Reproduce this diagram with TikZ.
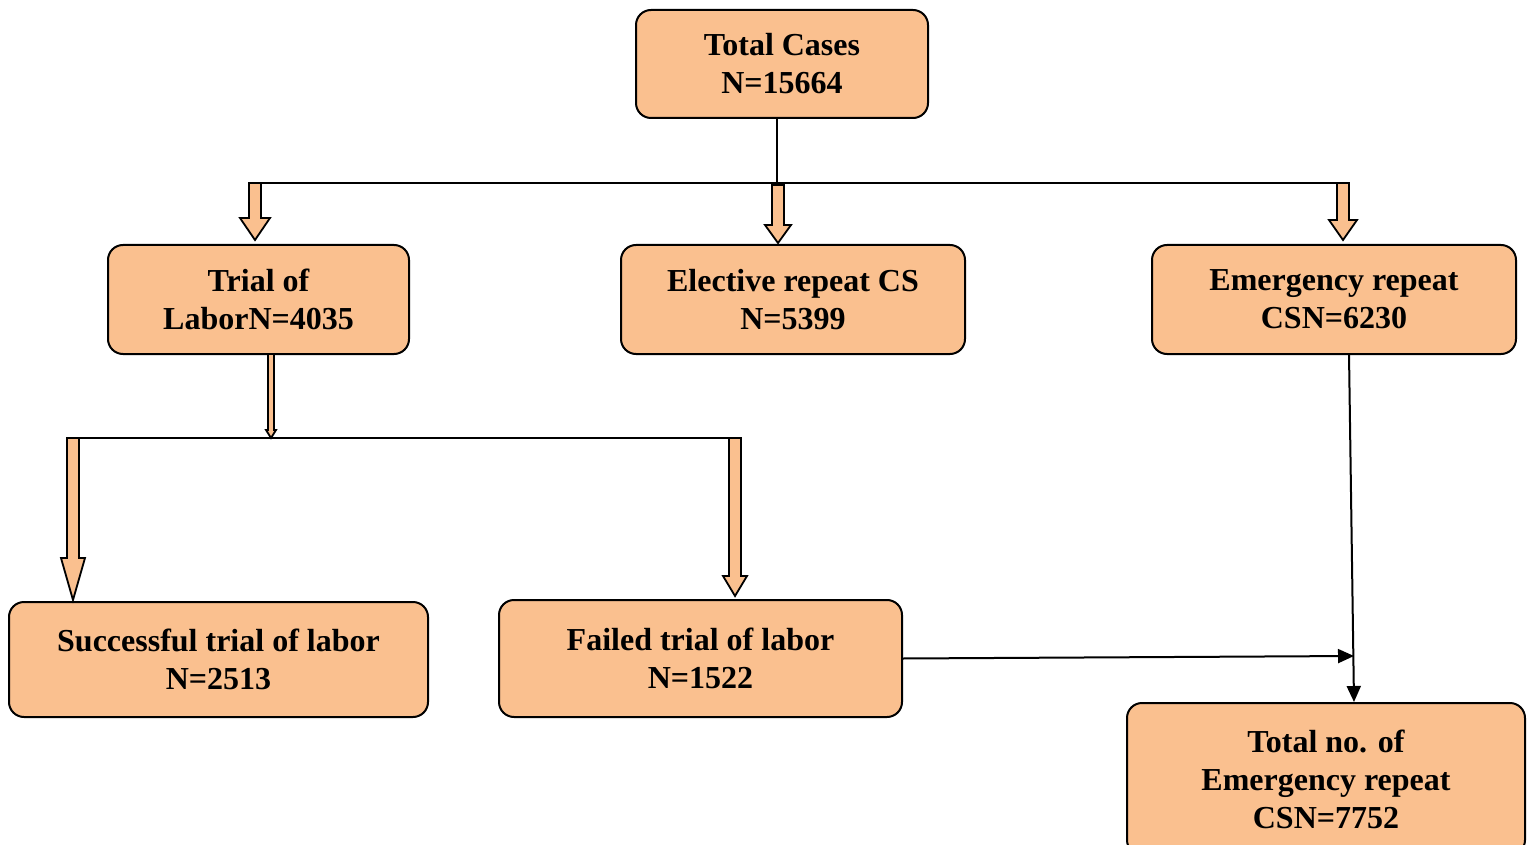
\documentclass[tikz,border=0pt]{standalone}
\usepackage{fontspec}
\setmainfont{Liberation Serif}
\usetikzlibrary{arrows.meta}
\definecolor{boxfill}{RGB}{250,192,143}
\newcommand\barrow[6]{%
  \draw[blk] (#1-#4,#2) -- (#1+#4,#2) -- (#1+#4,#3-#6) -- (#1+#5,#3-#6) -- (#1,#3) -- (#1-#5,#3-#6) -- (#1-#4,#3-#6) -- cycle;}
\begin{document}
\begin{tikzpicture}[x=0.5pt,y=-0.5pt,
  box/.style={draw=black,line width=1pt,fill=boxfill,rounded corners=7.5pt,align=center,
    font=\fontsize{16}{19}\selectfont\bfseries,inner sep=0pt},
  blk/.style={draw=black,line width=0.9pt,fill=boxfill,line join=miter},
  thin/.style={draw=black,line width=1pt},
  arr/.style={draw=black,line width=1pt,-{Triangle[length=8pt,width=7pt]}}]
\useasboundingbox (0,0) rectangle (1531,845);
\node[box,minimum width=146pt,minimum height=54pt] (tot) at (782,64) {Total Cases\\N=15664};
\node[box,minimum width=150.5pt,minimum height=54.5pt] (tol) at (258.5,299.5) {Trial of\\LaborN=4035};
\node[box,minimum width=172pt,minimum height=54.5pt] (ele) at (793,299.5) {Elective repeat CS\\N=5399};
\node[box,minimum width=182pt,minimum height=54.5pt] (emg) at (1334,299.5) {Emergency repeat\\CSN=6230};
\node[box,minimum width=209.5pt,minimum height=57.5pt] (suc) at (218.5,659.5) {Successful trial of labor\\N=2513};
\node[box,minimum width=201.5pt,minimum height=58.5pt] (fai) at (700.5,658.5) {Failed trial of labor\\N=1522};
\node[box,minimum width=199pt,minimum height=76pt] (tem) at (1326,779) {Total no. of\\Emergency repeat\\CSN=7752};
% connectors
\coordinate (j1) at (777,183);
\coordinate (l1) at (255,183);
\coordinate (r1) at (1343,183);
\coordinate (l2) at (73,438);
\coordinate (r2) at (735,438);
\coordinate (m2) at (1354,656);
\draw[thin] (tot.south -| j1) -- (j1);
\draw[thin] (l1) -- (r1);
\draw[thin] (l2) -- (r2);
\barrow{255}{183}{240}{6}{15}{22}
\barrow{778}{185}{243}{6}{13}{18}
\barrow{1343}{183}{240}{6}{14}{20}
\barrow{271}{354}{438}{3}{5}{8}
\barrow{73}{438}{600}{6}{12}{42}
\barrow{735}{438}{596}{6}{12}{20}
\draw[arr] (1349,354) -- (tem.north -| m2);
\draw[arr] (fai.east) -- (m2);
\end{tikzpicture}
\end{document}
